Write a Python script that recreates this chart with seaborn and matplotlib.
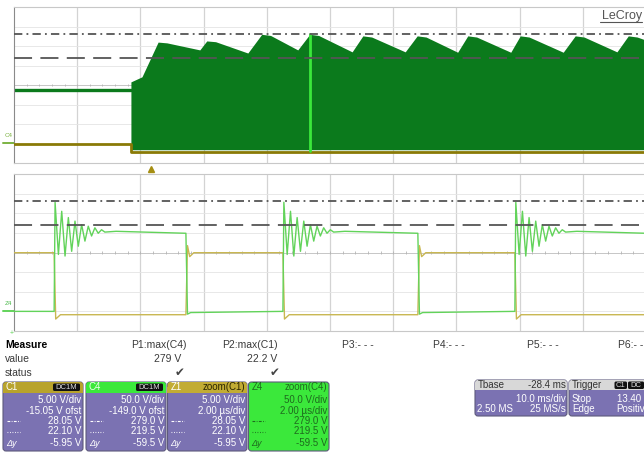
import matplotlib
matplotlib.use("Agg")
import numpy as np
import pandas as pd
import matplotlib.pyplot as plt
import seaborn as sns
from matplotlib.patches import FancyBboxPatch, Rectangle

sns.set_theme(style="white")
plt.rcParams['font.family'] = ['Liberation Sans', 'DejaVu Sans']
plt.rcParams['lines.scale_dashes'] = False

# ---------------- data ----------------
c4_vdiv, c4_center = 50.0, 149.0      # C4 / Z4 : 50 V/div, -149 V ofst
c1_vdiv, c1_center = 5.0, 15.05       # C1 / Z1 : 5 V/div, -15.05 V ofst
cursor_dashdot_v = 279.0
cursor_dotted_v = 219.5

# top trace (10 ms/div, ms)
top_xlim = [-21.6, 78.4]
trigger_t = 0.0
c4_pre_t = [-21.6, -3.1]
c4_pre_v = [136.0, 136.0]
env_t = [-3.1, -1.35, 1.2, 2.6, 7.8, 8.9, 10.3, 15.4, 17.6, 19.0, 23.3, 25.2, 26.6, 31.9, 33.6, 35.0, 40.3, 42.2,
         43.6, 48.6, 50.2, 51.6, 57.0, 58.5, 59.9, 65.3, 67.2, 68.6, 73.8, 75.6, 77.0, 78.4]
env_hi = [157, 170, 259, 257, 239, 262, 260, 231, 279, 276, 239, 279, 276, 234, 275, 272, 234, 275,
          272, 233, 275, 272, 233, 275, 272, 233, 275, 272, 234, 275, 272, 264]
env_lo = -17.0
c1_top_t = [-21.6, -3.1, -3.1, 78.4]
c1_top_v = [0.0, 0.0, -2.1, -2.1]
zoom_marker_t = [25.2, 25.2]
zoom_marker_v = [279.0, -21.0]

# bottom zoom traces (2 us/div, us)
bot_xlim = [0.0, 20.0]
z4_rise_t = [1.27, 8.51, 15.85]
z4_fall_t = [5.44, 12.78]
ring_v = [277, 144, 254, 140, 238, 152, 229, 165, 220, 178, 216, 191, 212, 198, 207, 201]
ring_dt = 0.105
z4_high_v = [203.0, 198.0]
z4_low_v = [-4.0, -1.0]
z4_fall_under_v = -8.0
z1_high_v = 15.0
z1_low_v = -0.8
z1_under_v = -1.9
z1_over_v = 16.8
z1_settle_v = 14.0

# info panel texts
meas_labels = ['Measure', 'value', 'status']
meas_params = ['P1:max(C4)', 'P2:max(C1)', 'P3:- - -', 'P4:- - -', 'P5:- - -', 'P6:- - -']
meas_values = ['279 V', '22.2 V']
c1_rows = ['5.00 V/div', '-15.05 V ofst', '28.05 V', '22.10 V', '-5.95 V']
c4_rows = ['50.0 V/div', '-149.0 V ofst', '279.0 V', '219.5 V', '-59.5 V']
z1_rows = ['5.00 V/div', '2.00 µs/div', '28.05 V', '22.10 V', '-5.95 V']
z4_rows = ['50.0 V/div', '2.00 µs/div', '279.0 V', '219.5 V', '-59.5 V']
tbase_rows = ['-28.4 ms', '10.0 ms/div', '2.50 MS', '25 MS/s']
trig_rows = ['Stop', '13.40 V', 'Edge', 'Positive']

# ---------------- build series ----------------
def c4div(v):
    return (np.asarray(v, float) - c4_center) / c4_vdiv

def c1div(v):
    return (np.asarray(v, float) - c1_center) / c1_vdiv

z4_t, z4_v = [bot_xlim[0]], [z4_low_v[1]]
for i, r in enumerate(z4_rise_t):
    z4_t.append(r); z4_v.append(z4_low_v[1])
    for k, rv in enumerate(ring_v):
        z4_t.append(r + 0.03 + k * ring_dt); z4_v.append(rv)
    z4_t.append(r + 0.03 + len(ring_v) * ring_dt + 0.25); z4_v.append(z4_high_v[0])
    if i < len(z4_fall_t):
        f = z4_fall_t[i]
        z4_t += [f, f + 0.05, f + 0.15]
        z4_v += [z4_high_v[1], z4_fall_under_v, z4_low_v[0]]
    else:
        z4_t.append(bot_xlim[1]); z4_v.append(z4_high_v[1])

z1_t, z1_v = [bot_xlim[0]], [z1_high_v]
for i, f in enumerate(z4_rise_t):
    z1_t += [f, f + 0.05, f + 0.2]
    z1_v += [z1_high_v, z1_under_v, z1_low_v]
    if i < len(z4_fall_t):
        r = z4_fall_t[i]
        z1_t += [r, r + 0.05, r + 0.12, r + 0.25]
        z1_v += [z1_low_v, z1_over_v, z1_settle_v, z1_high_v]
    else:
        z1_t.append(bot_xlim[1]); z1_v.append(z1_low_v)

df_z4 = pd.DataFrame({'t': z4_t, 'd': c4div(z4_v)})
df_z1 = pd.DataFrame({'t': z1_t, 'd': c1div(z1_v)})
df_c4pre = pd.DataFrame({'t': c4_pre_t, 'd': c4div(c4_pre_v)})
df_c1top = pd.DataFrame({'t': c1_top_t, 'd': c1div(c1_top_v)})

# ---------------- figure ----------------
W, H = 644, 454
fig = plt.figure(figsize=(W / 100, H / 100), dpi=100)
fig.patch.set_facecolor('white')

def px_rect(x0, y0, x1, y1):
    return [x0 / W, 1 - y1 / H, (x1 - x0) / W, (y1 - y0) / H]

ax_top = fig.add_axes(px_rect(14, 7, 646, 163))
ax_bot = fig.add_axes(px_rect(14, 174, 646, 331))

GREEN_D = '#0b7a1c'
OLIVE = '#8a7a06'
GREEN_L = '#62d35a'
KHAKI = '#c9b752'
BRIGHT = '#3be83b'

def scope_grid(ax, xlim):
    x0, x1 = xlim
    d = (x1 - x0) / 10
    ax.set_xlim(x0, x1)
    ax.set_ylim(-4, 4)
    ax.set_xticks([]); ax.set_yticks([])
    ax.set_facecolor('white')
    for i in range(1, 10):
        ax.axvline(x0 + i * d, color='#d3d3d3', lw=0.9, zorder=0)
    for j in [-3, -2, -1, 1, 2, 3]:
        ax.axhline(j, color='#e4e4e4', lw=0.6, zorder=0)
    ax.axhline(0, color='#c6c6c6', lw=0.7, zorder=0)
    ax.vlines(x0 + d * 0.2 * np.arange(1, 50), -0.07, 0.07, color='#b4b4b4', lw=0.6, zorder=0)
    for s in ax.spines.values():
        s.set_color('#c8c8c8'); s.set_linewidth(0.8)
    ax.spines['left'].set_color('#8a8a8a')
    ax.axhline(c4div(cursor_dashdot_v), color='#555555', lw=1.3, ls=(0, (6, 3, 1.3, 3)), zorder=4)
    ax.axhline(c4div(cursor_dotted_v), color='#555555', lw=1.3, ls=(0, (13, 6)), zorder=4)

scope_grid(ax_top, top_xlim)
scope_grid(ax_bot, bot_xlim)

# top panel traces
sns.lineplot(data=df_c4pre, x='t', y='d', ax=ax_top, color=GREEN_D, lw=2.4,
             estimator=None, sort=False, legend=False)
ax_top.fill_between(env_t, c4div(env_lo), c4div(env_hi), color=GREEN_D, lw=0, zorder=2)
sns.lineplot(data=df_c1top, x='t', y='d', ax=ax_top, color=OLIVE, lw=2.0,
             estimator=None, sort=False, legend=False, zorder=3)
ax_top.plot(zoom_marker_t, c4div(zoom_marker_v), color=BRIGHT, lw=2.0, zorder=3)
ax_top.plot([trigger_t], [-4.3], marker='^', ms=5, color='#a58e12', clip_on=False, zorder=5)
ax_top.set_xlabel(''); ax_top.set_ylabel('')

# bottom panel traces
sns.lineplot(data=df_z1, x='t', y='d', ax=ax_bot, color=KHAKI, lw=1.0,
             estimator=None, sort=False, legend=False, zorder=3)
sns.lineplot(data=df_z4, x='t', y='d', ax=ax_bot, color=GREEN_L, lw=1.0,
             estimator=None, sort=False, legend=False, zorder=3)
ax_bot.set_xlabel(''); ax_bot.set_ylabel('')

# ground markers
d_top = (top_xlim[1] - top_xlim[0]) / 10
ax_top.plot([top_xlim[0] - 0.18 * d_top, top_xlim[0]], [c4div(0), c4div(0)], color='#7cb342', lw=1.4, clip_on=False)
ax_top.text(top_xlim[0] - 0.15 * d_top, c4div(0) + 0.3, 'C4', fontsize=4.5, color='#7cb342', clip_on=False)
d_bot = (bot_xlim[1] - bot_xlim[0]) / 10
ax_bot.plot([bot_xlim[0] - 0.18 * d_bot, bot_xlim[0]], [c4div(0), c4div(0)], color=GREEN_L, lw=1.4, clip_on=False)
ax_bot.text(bot_xlim[0] - 0.15 * d_bot, c4div(0) + 0.3, 'Z4', fontsize=4.5, color='#49b849', clip_on=False)

# ---------------- overlay (text panels) ----------------
ov = fig.add_axes([0, 0, 1, 1], zorder=10)
ov.set_xlim(0, W); ov.set_ylim(H, 0); ov.axis('off')

TXT = '#3a3a3a'
ov.text(642, 16, 'LeCroy', ha='right', va='center', fontsize=9, color='#555555')
ov.plot([600, 642], [22, 22], color='#555555', lw=0.8)
ov.text(12, 334, '+', ha='center', va='center', fontsize=5, color=GREEN_L)

meas_y = [345, 359, 372.5]
for lab, y in zip(meas_labels, meas_y):
    ov.text(5, y, lab, ha='left', va='center', fontsize=7.5, color='black' if lab == 'Measure' else TXT,
            fontweight='bold' if lab == 'Measure' else 'normal')
param_x = [187, 278, 342, 433, 527, 618]
for i, (p, x) in enumerate(zip(meas_params, param_x)):
    ov.text(x, meas_y[0], p, ha='right' if i < 2 else 'left', va='center', fontsize=7.5, color=TXT)
for v, x in zip(meas_values, [181, 277]):
    ov.text(x, meas_y[1], v, ha='right', va='center', fontsize=7.5, color=TXT)
for x in [180, 275]:
    ov.text(x, meas_y[2], '✔', ha='center', va='center', fontsize=8.5, color='#444444',
            family='DejaVu Sans')

PURPLE = '#7b72b2'
ROW_Y = [400, 410.5, 421, 431.5, 443]

def rbox(x0, x1, y0, y1, fc, ec='none', lw=0, r=3):
    ov.add_patch(FancyBboxPatch((x0, y0), x1 - x0, y1 - y0,
                                boxstyle=f'round,pad=0,rounding_size={r}', fc=fc, ec=ec, lw=lw))

def header(x0, x1, y0, hh, fc):
    rbox(x0, x1, y0, y0 + hh, fc)
    ov.add_patch(Rectangle((x0, y0 + hh / 2), x1 - x0, hh / 2, fc=fc, ec='none'))

def badge(x0, x1, y0, y1, text):
    rbox(x0, x1, y0, y1, '#111111', r=1.5)
    ov.text((x0 + x1) / 2, (y0 + y1) / 2 + 0.3, text, ha='center', va='center', fontsize=5.5, color='#dddddd')

def left_symbols(x0, col):
    ov.plot([x0 + 4, x0 + 17], [ROW_Y[2], ROW_Y[2]], color=col, lw=0.8, ls=(0, (2, 1, 0.6, 1)))
    ov.plot([x0 + 4, x0 + 17], [ROW_Y[3], ROW_Y[3]], color=col, lw=0.8, ls=(0, (0.6, 1.2)))
    ov.text(x0 + 3, ROW_Y[4], 'Δy', ha='left', va='center', fontsize=6.5, color=col, style='italic')

def chan_box(x0, x1, name, head_col, rows, name_col, right_head=None, badge_txt=None,
             body=PURPLE, txt_col='white', head_txt_col='#222222'):
    y0, y1 = 382, 451
    rbox(x0, x1, y0, y1, body, ec='#5e5a7c', lw=0.8)
    if head_col is not None:
        header(x0, x1, y0, 10.5, head_col)
    ov.text(x0 + 3, 387.2, name, ha='left', va='center', fontsize=7, color=name_col)
    if badge_txt:
        badge(x1 - 30, x1 - 3, 383.5, 391, badge_txt)
    if right_head:
        ov.text(x1 - 1.5, 387.2, right_head, ha='right', va='center', fontsize=7, color=head_txt_col)
    for s, y in zip(rows, ROW_Y):
        ov.text(x1 - 1.5, y, s, ha='right', va='center', fontsize=7, color=txt_col)
    left_symbols(x0, txt_col)

chan_box(3, 83, 'C1', '#b8a32c', c1_rows, 'white', badge_txt='DC1M')
chan_box(86, 166, 'C4', BRIGHT, c4_rows, '#eaffea', badge_txt='DC1M')
chan_box(167.5, 247, 'Z1', '#c2ac34', z1_rows, 'white', right_head='zoom(C1)', head_txt_col='#2b2500')
chan_box(248.5, 329, 'Z4', None, z4_rows, '#1e6b1e', right_head='zoom(C4)', body=BRIGHT,
         txt_col='#1e6b1e', head_txt_col='#1e6b1e')

# timebase box
tx0, tx1, ty0, ty1 = 475, 567, 380, 416
rbox(tx0, tx1, ty0, ty1, PURPLE, ec='#5e5a7c', lw=0.8)
header(tx0, tx1, ty0, 10, '#d8d8d8')
ov.text(tx0 + 3, 385, 'Tbase', ha='left', va='center', fontsize=7, color='#333333')
ov.text(tx1 - 1.5, 385, tbase_rows[0], ha='right', va='center', fontsize=7, color='#333333')
ov.text(tx1 - 1.5, 399, tbase_rows[1], ha='right', va='center', fontsize=7, color='white')
ov.text(tx0 + 2, 409.5, tbase_rows[2], ha='left', va='center', fontsize=7, color='white')
ov.text(tx1 - 1.5, 409.5, tbase_rows[3], ha='right', va='center', fontsize=7, color='white')

# trigger box (runs off the right edge, as in the screenshot)
gx0, gx1 = 569, 662
rbox(gx0, gx1, ty0, ty1, PURPLE, ec='#5e5a7c', lw=0.8)
header(gx0, gx1, ty0, 10, '#d8d8d8')
ov.text(gx0 + 3, 385, 'Trigger', ha='left', va='center', fontsize=7, color='#333333')
badge(614.5, 627, 381.5, 389, 'C1')
badge(628, 644, 381.5, 389, 'DC')
ov.text(gx0 + 3, 399, trig_rows[0], ha='left', va='center', fontsize=7, color='white')
ov.text(617, 399, trig_rows[1], ha='left', va='center', fontsize=7, color='white')
ov.text(gx0 + 3, 409.5, trig_rows[2], ha='left', va='center', fontsize=7, color='white')
ov.text(616, 409.5, trig_rows[3], ha='left', va='center', fontsize=7, color='white')

fig.savefig('out.png', dpi=100, facecolor='white')
